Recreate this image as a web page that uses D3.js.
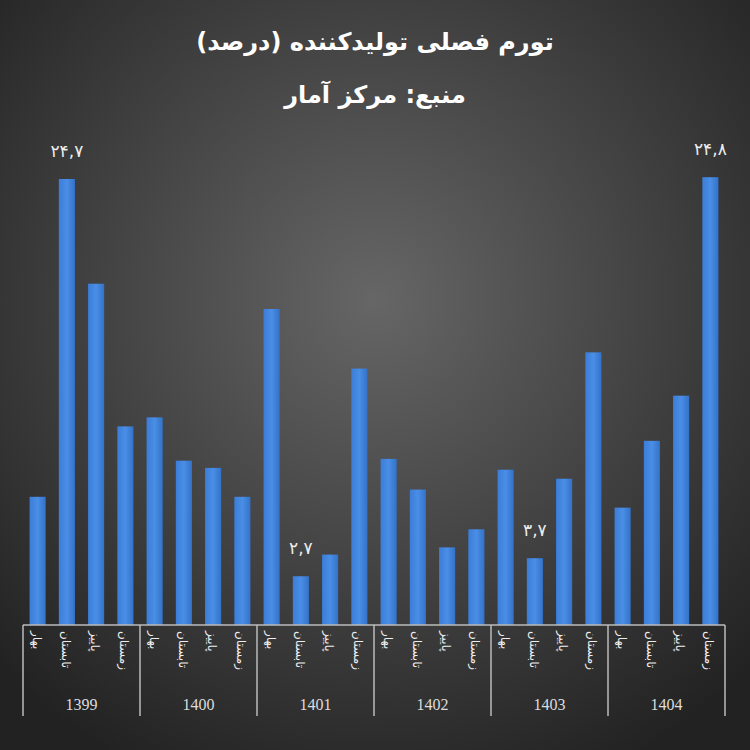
<!DOCTYPE html>
<html><head><meta charset="utf-8">
<script src="https://cdn.jsdelivr.net/npm/d3@7"></script>
<style>body{margin:0;background:#2a2a2a}</style></head>
<body><svg id="c" width="750" height="750"></svg>
<script>
const years = ["1399","1400","1401","1402","1403","1404"];
const seasons = ["بهار","تابستان","پاییز","زمستان"];
const values = [7.1,24.7,18.9,11.0, 11.5,9.1,8.7,7.1, 17.5,2.7,3.9,14.2, 9.2,7.5,4.3,5.3, 8.6,3.7,8.1,15.1, 6.5,10.2,12.7,24.8];
const labelled = {1:"۲۴,۷",9:"۲,۷",17:"۳,۷",23:"۲۴,۸"};
const svg = d3.select("#c");
const defs = svg.append("defs");
const rg = defs.append("radialGradient").attr("id","bg").attr("cx","50%").attr("cy","40%").attr("r","70%");
rg.append("stop").attr("offset","0%").attr("stop-color","#666");
rg.append("stop").attr("offset","100%").attr("stop-color","#222");
const bgd = defs.append("linearGradient").attr("id","bar").attr("x1",0).attr("x2",1);
bgd.append("stop").attr("offset","0%").attr("stop-color","#3b7dd8");
bgd.append("stop").attr("offset","50%").attr("stop-color","#4a8ee6");
bgd.append("stop").attr("offset","100%").attr("stop-color","#3472c8");
svg.append("rect").attr("width",750).attr("height",750).attr("fill","url(#bg)");
const x0=23,x1=725,base=625;
const x = d3.scaleBand().domain(d3.range(values.length)).range([x0,x1]).paddingInner(0.45).paddingOuter(0.225);
const y = d3.scaleLinear().domain([0,24.7]).range([base,179]);
svg.selectAll(".b").data(values).join("rect").attr("x",(d,i)=>x(i)).attr("width",x.bandwidth())
 .attr("y",d=>y(d)).attr("height",d=>base-y(d)).attr("fill","url(#bar)");
svg.selectAll(".l").data(values.map((v,i)=>[v,i]).filter(d=>labelled[d[1]])).join("text")
 .attr("x",d=>x(d[1])+x.bandwidth()/2).attr("y",d=>y(d[0])-22).attr("text-anchor","middle")
 .attr("fill","#eee").attr("font-family","DejaVu Sans").attr("font-size",17).text(d=>labelled[d[1]]);
const gx = d3.scaleBand().domain(years).range([x0,x1]);
svg.append("line").attr("x1",x0).attr("x2",x1).attr("y1",base).attr("y2",base).attr("stroke","#bbb").attr("stroke-width",1.5);
svg.selectAll(".sep").data(d3.range(years.length+1)).join("line")
 .attr("x1",i=>x0+i*gx.bandwidth()).attr("x2",i=>x0+i*gx.bandwidth()).attr("y1",base).attr("y2",716)
 .attr("stroke","#bbb").attr("stroke-width",1.5);
svg.selectAll(".s").data(values).join("text")
 .attr("transform",(d,i)=>`translate(${x(i)+x.bandwidth()/2-5},${631}) rotate(90)`)
 .attr("fill","#eee").attr("font-family","DejaVu Sans").attr("font-size",12)
 .text((d,i)=>seasons[i%4]);
svg.selectAll(".y").data(years).join("text").attr("x",d=>gx(d)+gx.bandwidth()/2).attr("y",710)
 .attr("text-anchor","middle").attr("fill","#ddd").attr("font-family","Liberation Serif").attr("font-size",16).text(d=>d);
svg.append("text").attr("x",375).attr("y",50).attr("text-anchor","middle").attr("fill","#fff")
 .attr("font-family","DejaVu Sans").attr("font-weight","bold").attr("font-size",24).text("تورم فصلی تولیدکننده (درصد)");
svg.append("text").attr("x",375).attr("y",103).attr("text-anchor","middle").attr("fill","#fff")
 .attr("font-family","DejaVu Sans").attr("font-weight","bold").attr("font-size",24).text("منبع: مرکز آمار");
</script></body></html>
